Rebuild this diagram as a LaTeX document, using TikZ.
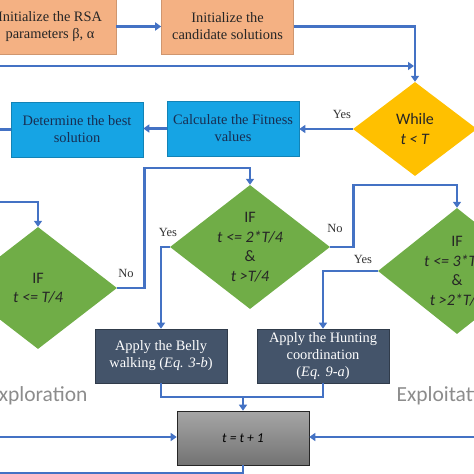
\documentclass[tikz,border=0pt]{standalone}
\usepackage{fontspec}
\setmainfont{Liberation Serif}
\newfontfamily\calib{Carlito}
\usetikzlibrary{shapes.geometric,arrows.meta}

\definecolor{salmon}{RGB}{244,177,131}
\definecolor{skyblue}{RGB}{22,164,228}
\definecolor{navytxt}{RGB}{24,46,82}
\definecolor{slate}{RGB}{68,84,106}
\definecolor{gold}{RGB}{255,192,0}
\definecolor{leaf}{RGB}{112,173,71}
\definecolor{linkblue}{RGB}{68,114,196}

\tikzset{
  box/.style={rectangle, minimum width=132pt, minimum height=55pt, align=center,
    font=\fontsize{14.4}{17}\selectfont, inner sep=2pt},
  initbox/.style={box, fill=salmon, draw=salmon!85!black, line width=0.6pt, text=black!85},
  calcbox/.style={box, fill=skyblue, draw=skyblue!80!black, line width=0.6pt, text=navytxt},
  applybox/.style={box, fill=slate, draw=slate!70!black, line width=0.6pt, text=white, minimum height=54pt},
  incbox/.style={box, top color=black!35, bottom color=black!55, draw=black!85, line width=0.6pt, minimum height=54pt},
  cond/.style={diamond, inner sep=0pt},
  condtext/.style={align=center, font=\calib\fontsize{16}{19.5}\selectfont, text=black!85},
  flow/.style={draw=linkblue, line width=2.6pt, -{Triangle[length=6pt,width=8pt]}},
  link/.style={draw=linkblue, line width=2.6pt},
  lbl/.style={font=\fontsize{12.5}{14}\selectfont, text=black!80},
  phase/.style={font=\calib\fontsize{21.5}{24}\selectfont, text=black!45}
}

\begin{document}
\begin{tikzpicture}[x=1pt,y=-1pt]
    \useasboundingbox (0,0) rectangle (474,474);
    \clip (0,0) rectangle (474,474);
    % boxes
    \node[initbox] (init) at (50,26.5) {Initialize the RSA\\parameters β, α};
    \node[initbox] (cand) at (227.5,26.5) {Initialize the\\candidate solutions};
    \node[calcbox] (fit) at (233,128.5) {Calculate the Fitness\\values};
    \node[calcbox] (best) at (77,129.5) {Determine the best\\solution};
    \node[applybox] (belly) at (161,356) {Apply the Belly\\walking (\textit{Eq. 3-b})};
    \node[applybox] (hunt) at (323,356) {Apply the Hunting\\coordination\\(\textit{Eq. 9-a})};
    \node[incbox] (inc) at (243,438) {\calib\fontsize{13.5}{15}\selectfont\textit{t = t + 1}};
    % decisions
    \node[cond, fill=gold, minimum width=124pt, minimum height=94pt] (while) at (415,129) {};
    \node[condtext] at (while) {While\\\textit{t < T}};
    \node[cond, fill=leaf, minimum width=158pt, minimum height=122pt] (d1) at (38,288) {};
    \node[condtext] at (d1) {IF\\\textit{t <= T/4}};
    \node[cond, fill=leaf, minimum width=160pt, minimum height=124pt] (d2) at (250,247) {};
    \node[condtext] at (d2) {IF\\\textit{t <= 2*T/4}\\\&\\\textit{t >T/4}};
    \node[cond, fill=leaf, minimum width=158pt, minimum height=126pt] (d3) at (457,271) {};
    \node[condtext] at (d3) {IF\\\textit{t <= 3*T/4}\\\&\\\textit{t >2*T/4}};
    % loose ends
    \coordinate (backin) at (-5,66);
    \coordinate (bestout) at (-5,129.5);
    \coordinate (d1in) at (-5,202);
    \coordinate (leftin) at (-5,437);
    \coordinate (rightin) at (480,437);
    \coordinate (incout) at (-5,473);
    \coordinate (merge) at (243,397);
    % connectors
    \draw[flow] (init) -- (cand);
    \draw[flow] (cand.east) -| (while.north);
    \draw[flow, shorten >=1pt] (backin) -- (while.north |- backin);
    \draw[flow] (while.west) -- (fit.east |- while.west);
    \draw[flow] (fit.west) -- (best.east |- fit.west);
    \draw[link] (best.west) -- (bestout);
    \draw[flow] (d1in) -| (d1.north);
    \draw[flow] (d1.east) -- ++(27,0) |- ([yshift=17pt]d2.north) -- (d2.north);
    \draw[flow] (d2.west) -| (belly.north);
    \draw[flow] (d2.east) -- ++(23,0) |- ([yshift=23pt]d3.north) -- (d3.north);
    \draw[flow] (d3.west) -| (hunt.north);
    \draw[link] (belly.south) |- (merge) -| (hunt.south);
    \draw[flow] (merge) -- (inc.north);
    \draw[flow] (leftin) -- (inc.west |- leftin);
    \draw[flow] (rightin) -- (inc.east |- rightin);
    \draw[link] (inc.south) |- (incout);
    % labels
    \node[lbl] at (342,114) {Yes};
    \node[lbl] at (126,273) {No};
    \node[lbl] at (168,232) {Yes};
    \node[lbl] at (335,228) {No};
    \node[lbl] at (363,259) {Yes};
    \node[phase, anchor=base east] (explore) at (91,401) {Exploration};
    \node[phase, anchor=base west] (exploit) at (393,401) {Exploitation};
\end{tikzpicture}
\end{document}
